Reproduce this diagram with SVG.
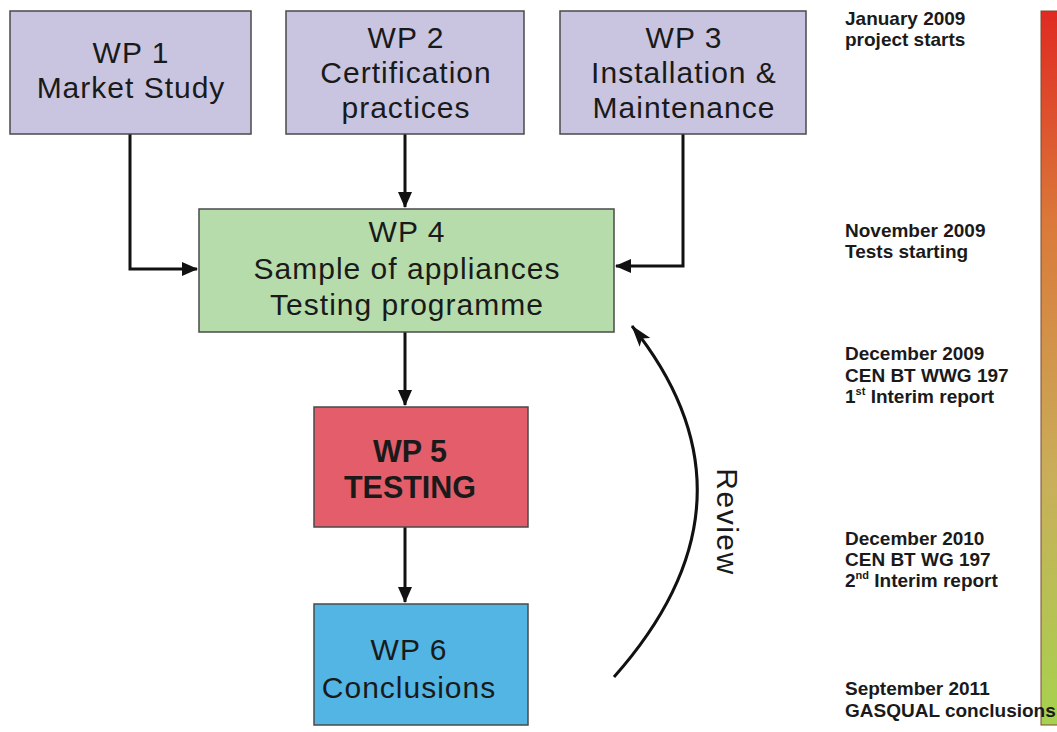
<svg xmlns="http://www.w3.org/2000/svg" width="1057" height="732" viewBox="0 0 1057 732">
<defs>
<style>
.box{stroke:#4a4a4a;stroke-width:1.5}
.t{font-family:"Liberation Sans",Arial,sans-serif;font-size:30px;letter-spacing:1px;fill:#1a1a1a;text-anchor:middle}
.tb{font-family:"Liberation Sans",Arial,sans-serif;font-size:30.5px;font-weight:bold;fill:#1a1a1a;text-anchor:middle}
.side{font-family:"Liberation Sans",Arial,sans-serif;font-size:19px;font-weight:bold;fill:#1a1a1a}
.sup{font-size:11px}
.con{fill:none;stroke:#111;stroke-width:3}
</style>
<marker id="ah" viewBox="0 0 16 14" refX="15" refY="7" markerWidth="16" markerHeight="14" markerUnits="userSpaceOnUse" orient="auto">
<path d="M0,0 L16,7 L0,14 z" fill="#111"/>
</marker>
<marker id="ah2" viewBox="0 0 22 14" refX="21" refY="7" markerWidth="22" markerHeight="14" markerUnits="userSpaceOnUse" orient="auto">
<path d="M0,0 L22,7 L0,14 L5,7 z" fill="#111"/>
</marker>
<linearGradient id="bar" x1="0" y1="0" x2="0" y2="1">
<stop offset="0" stop-color="#e02a22"/>
<stop offset="0.3" stop-color="#da7a3a"/>
<stop offset="0.65" stop-color="#c9ae5a"/>
<stop offset="1" stop-color="#a6d24e"/>
</linearGradient>
</defs>
<rect width="1057" height="732" fill="#ffffff"/>

<g id="connectors">
<path class="con" d="M130,134 V269 H197" marker-end="url(#ah)"/>
<path class="con" d="M405,134 V207" marker-end="url(#ah)"/>
<path class="con" d="M683,134 V266 H616" marker-end="url(#ah)"/>
<path class="con" d="M405,331 V405" marker-end="url(#ah)"/>
<path class="con" d="M405,527 V602" marker-end="url(#ah)"/>
<path class="con" d="M614,677 Q771,500 632,326" stroke-width="2.5" marker-end="url(#ah2)"/>
<text class="t" transform="translate(717,522) rotate(90)" style="letter-spacing:1.5px">Review</text>
</g>

<g id="wp1">
<rect class="box" x="10" y="11" width="241" height="123" fill="#c9c5e1"/>
<text class="t" x="131" y="63">WP 1</text>
<text class="t" x="131" y="98">Market Study</text>
</g>
<g id="wp2">
<rect class="box" x="286" y="11" width="238" height="123" fill="#c9c5e1"/>
<text class="t" x="406" y="48">WP 2</text>
<text class="t" x="406" y="83">Certification</text>
<text class="t" x="406" y="118">practices</text>
</g>
<g id="wp3">
<rect class="box" x="560" y="11" width="246" height="123" fill="#c9c5e1"/>
<text class="t" x="684" y="48">WP 3</text>
<text class="t" x="684" y="83">Installation &amp;</text>
<text class="t" x="684" y="118">Maintenance</text>
</g>
<g id="wp4">
<rect class="box" x="199" y="209" width="415" height="123" fill="#b6dcab"/>
<text class="t" x="407" y="242">WP 4</text>
<text class="t" x="407" y="279">Sample of appliances</text>
<text class="t" x="407" y="315">Testing programme</text>
</g>
<g id="wp5">
<rect class="box" x="314" y="407" width="214" height="120" fill="#e35e6a"/>
<text class="tb" x="410" y="462">WP 5</text>
<text class="tb" x="410" y="498">TESTING</text>
</g>
<g id="wp6">
<rect class="box" x="314" y="604" width="214" height="121" fill="#52b5e3"/>
<text class="t" x="409" y="660">WP 6</text>
<text class="t" x="409" y="698">Conclusions</text>
</g>

<g id="timeline">
<rect x="1041" y="11" width="18" height="714" fill="url(#bar)" stroke="#7a4a30" stroke-width="1"/>
<text class="side" x="845" y="25">January 2009</text>
<text class="side" x="845" y="46">project starts</text>
<text class="side" x="845" y="237">November 2009</text>
<text class="side" x="845" y="258">Tests starting</text>
<text class="side" x="845" y="360">December 2009</text>
<text class="side" x="845" y="382">CEN BT WWG 197</text>
<text class="side" x="845" y="403">1<tspan class="sup" dy="-8">st</tspan><tspan dy="8"> Interim report</tspan></text>
<text class="side" x="845" y="545">December 2010</text>
<text class="side" x="845" y="566">CEN BT WG 197</text>
<text class="side" x="845" y="587">2<tspan class="sup" dy="-8">nd</tspan><tspan dy="8"> Interim report</tspan></text>
<text class="side" x="845" y="695">September 2011</text>
<text class="side" x="845" y="717">GASQUAL conclusions</text>
</g>
</svg>
